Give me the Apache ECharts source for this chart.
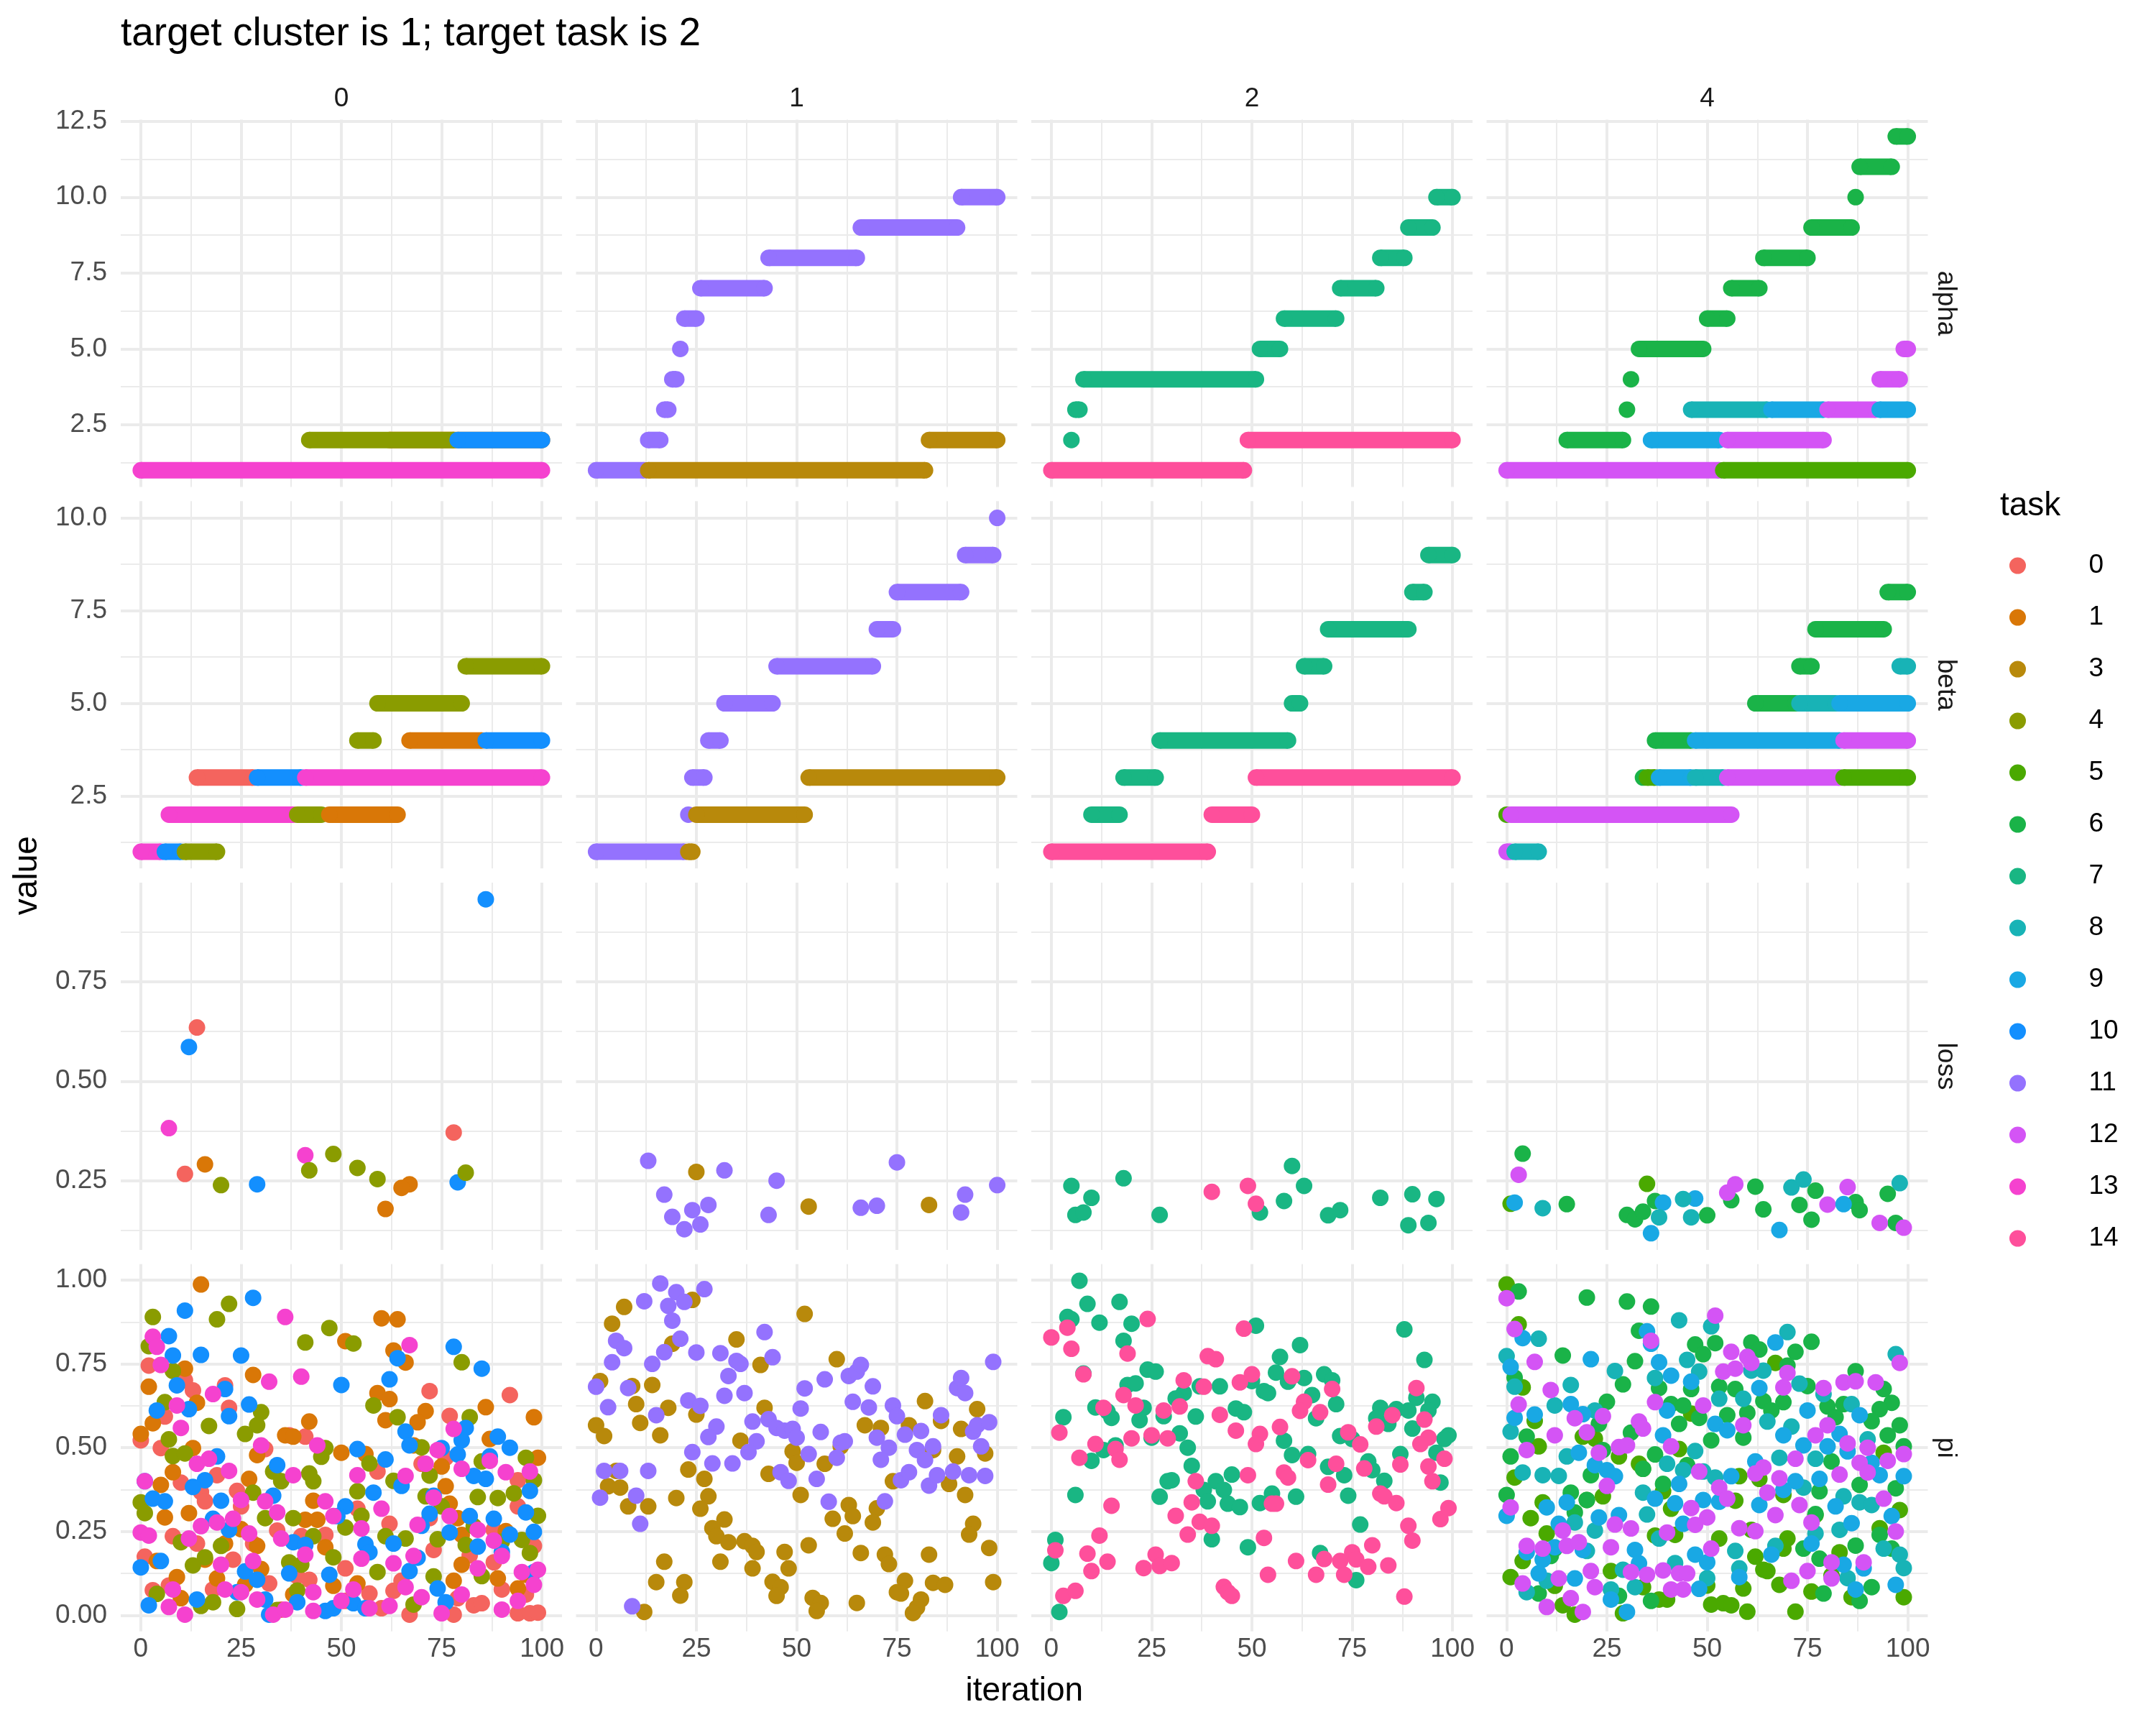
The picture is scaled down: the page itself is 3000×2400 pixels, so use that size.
<!DOCTYPE html>
<html>
<head>
<meta charset="utf-8">
<title>target cluster is 1; target task is 2</title>
<script src="https://cdn.jsdelivr.net/npm/echarts@6.0.0/dist/echarts.min.js"></script>
<style>
html,body{margin:0;padding:0;background:#ffffff;}
#chart{width:3000px;height:2400px;}
</style>
</head>
<body>
<div id="chart"></div>
<script>
// ---------------- categories ----------------
const clusters = [0, 1, 2, 4];
const metrics = ['alpha', 'beta', 'loss', 'pi'];
const tasks = [0, 1, 3, 4, 5, 6, 7, 8, 9, 10, 11, 12, 13, 14];
const titleText = 'target cluster is 1; target task is 2';

// ---------------- tick labels ----------------
const xTicks = [0, 25, 50, 75, 100];
const xMinorTicks = [12.5, 37.5, 62.5, 87.5];
const alphaTicks = [2.5, 5, 7.5, 10, 12.5];
const alphaMinorTicks = [1.25, 3.75, 6.25, 8.75, 11.25];
const betaTicks = [2.5, 5, 7.5, 10];
const betaMinorTicks = [1.25, 3.75, 6.25, 8.75];
const lossTicks = [0.25, 0.5, 0.75];
const lossMinorTicks = [0.125, 0.375, 0.625, 0.875];
const piTicks = [0, 0.25, 0.5, 0.75, 1];
const piMinorTicks = [0.125, 0.375, 0.625, 0.875];

// ---------------- alpha / beta: runs of constant value ----------------
// [cluster, task, firstIteration, lastIteration, value]
const alphaRuns = [
  [0,1,62,100,2],[0,4,42,78,2],[0,10,79,100,2],[0,13,0,100,1],
  [1,11,0,12,1],[1,3,13,82,1],[1,11,13,16,2],[1,11,17,18,3],[1,11,19,20,4],[1,11,21,21,5],
  [1,11,22,25,6],[1,11,26,42,7],[1,11,43,65,8],[1,11,66,90,9],[1,11,91,100,10],[1,3,83,100,2],
  [2,14,0,48,1],[2,7,5,5,2],[2,7,6,7,3],[2,7,8,51,4],[2,14,49,100,2],[2,7,52,57,5],
  [2,7,58,71,6],[2,7,72,81,7],[2,7,82,88,8],[2,7,89,95,9],[2,7,96,100,10],
  [4,12,0,53,1],[4,5,54,100,1],[4,6,15,29,2],[4,9,36,53,2],[4,12,55,79,2],
  [4,6,30,30,3],[4,8,46,65,3],[4,9,66,79,3],[4,12,80,92,3],[4,9,93,100,3],
  [4,6,31,31,4],[4,12,93,98,4],[4,6,33,49,5],[4,12,99,100,5],[4,6,50,55,6],
  [4,6,56,63,7],[4,6,64,75,8],[4,6,76,86,9],[4,6,87,87,10],[4,6,88,96,11],[4,6,97,100,12]
];
const betaRuns = [
  [0,13,0,5,1],[0,10,6,10,1],[0,4,11,19,1],
  [0,13,7,38,2],[0,4,39,45,2],[0,1,47,64,2],
  [0,0,14,28,3],[0,10,29,40,3],[0,13,41,100,3],
  [0,4,54,58,4],[0,1,67,85,4],[0,10,86,100,4],
  [0,4,59,80,5],[0,4,81,100,6],
  [1,11,0,22,1],[1,3,23,24,1],[1,11,23,23,2],[1,3,25,52,2],[1,11,24,27,3],[1,3,53,100,3],
  [1,11,28,31,4],[1,11,32,44,5],[1,11,45,69,6],[1,11,70,74,7],[1,11,75,91,8],[1,11,92,99,9],[1,11,100,100,10],
  [2,14,0,39,1],[2,7,10,17,2],[2,14,40,50,2],[2,7,18,26,3],[2,14,51,100,3],[2,7,27,59,4],
  [2,7,60,62,5],[2,7,63,68,6],[2,7,69,89,7],[2,7,90,93,8],[2,7,94,100,9],
  [4,12,0,1,1],[4,8,2,8,1],[4,5,0,0,2],[4,12,1,56,2],
  [4,6,34,34,3],[4,5,35,37,3],[4,9,38,46,3],[4,8,47,54,3],[4,12,55,83,3],[4,5,84,100,3],
  [4,6,37,46,4],[4,9,47,83,4],[4,12,84,100,4],
  [4,6,62,72,5],[4,8,73,82,5],[4,9,83,100,5],
  [4,6,73,76,6],[4,8,98,100,6],[4,6,77,94,7],[4,6,95,100,8]
];

// ---------------- loss: [cluster, task, iteration, value] ----------------
const lossPoints = [
  [0,10,86,.957],[0,0,14,.635],[0,10,12,.586],[0,13,7,.382],[0,0,78,.371],[0,1,16,.291],[0,0,11,.267],
  [0,4,20,.239],[0,10,29,.241],[0,13,41,.314],[0,4,48,.317],[0,4,42,.276],[0,4,54,.282],[0,4,59,.254],
  [0,1,67,.241],[0,1,65,.232],[0,1,61,.179],[0,10,79,.246],[0,4,81,.270],
  [1,11,13,.300],[1,3,25,.272],[1,11,32,.276],[1,11,45,.250],[1,11,17,.215],[1,11,28,.189],[1,11,24,.176],
  [1,11,19,.159],[1,11,22,.128],[1,11,26,.140],[1,11,43,.164],[1,3,53,.185],[1,11,66,.182],[1,11,70,.187],
  [1,11,75,.296],[1,3,83,.189],[1,11,91,.170],[1,11,92,.215],[1,11,100,.239],
  [2,7,5,.237],[2,7,10,.207],[2,7,18,.256],[2,7,6,.164],[2,7,8,.170],[2,7,27,.164],[2,14,40,.222],
  [2,14,49,.237],[2,14,51,.192],[2,7,52,.170],[2,7,60,.287],[2,7,63,.237],[2,7,58,.199],[2,7,69,.163],
  [2,7,72,.176],[2,7,82,.207],[2,7,90,.216],[2,7,96,.204],[2,7,89,.138],[2,7,94,.144],
  [4,6,4,.318],[4,12,3,.265],[4,5,1,.192],[4,9,2,.195],[4,8,9,.181],[4,6,15,.191],[4,5,35,.242],
  [4,6,37,.199],[4,9,39,.195],[4,6,30,.164],[4,6,32,.153],[4,6,34,.172],[4,8,38,.158],[4,9,36,.118],
  [4,8,44,.204],[4,9,47,.205],[4,8,46,.158],[4,6,50,.163],[4,12,55,.220],[4,12,57,.241],[4,6,56,.201],
  [4,6,62,.235],[4,6,64,.178],[4,9,68,.126],[4,8,71,.233],[4,8,74,.253],[4,6,77,.225],[4,6,73,.189],
  [4,6,76,.152],[4,12,80,.190],[4,9,84,.191],[4,12,85,.234],[4,6,87,.196],[4,6,88,.176],[4,6,95,.217],
  [4,8,98,.244],[4,12,93,.144],[4,6,97,.144],[4,12,99,.132]
];

// ---------------- pi: [iteration, value] per cluster / task ----------------
const piC0T0 = [[2,.745],[72,.669],[92,.657],[77,.595],[21,.686],[11,.701],[13,.671],[22,.619],[6,.593],[0,.522],[5,.499],[41,.533],[37,.537],[31,.496],[70,.452],[59,.429],[76,.470],[94,.403],[10,.396],[19,.418],[15,.368],[16,.340],[24,.371],[25,.325],[72,.290],[94,.325],[62,.273],[54,.318],[8,.236],[14,.214],[28,.214],[23,.166],[34,.253],[40,.236],[46,.240],[73,.195],[98,.207],[1,.175],[88,.158],[88,.255],[82,.179],[3,.075],[7,.089],[18,.077],[32,.095],[39,.117],[42,.106],[51,.140],[57,.065],[60,.021],[67,.002],[63,.073],[78,.002],[79,.051],[83,.030],[90,.077],[94,.006],[97,.006],[99,.008],[85,.036],[96,.062],[35,.017],[51,.043],[65,.103]];
const piC0T1 = [[15,.987],[60,.886],[64,.883],[51,.818],[63,.790],[66,.754],[11,.736],[28,.717],[2,.682],[59,.663],[62,.645],[14,.634],[86,.621],[71,.609],[98,.591],[42,.578],[61,.582],[69,.576],[3,.573],[0,.541],[87,.526],[36,.537],[38,.533],[13,.499],[29,.478],[50,.485],[56,.481],[68,.507],[99,.470],[75,.444],[8,.427],[27,.407],[5,.389],[76,.385],[43,.342],[77,.333],[12,.305],[6,.292],[41,.285],[44,.285],[79,.290],[25,.257],[91,.251],[21,.214],[80,.240],[29,.207],[46,.203],[80,.151],[16,.166],[4,.162],[30,.138],[19,.110],[89,.110],[9,.114],[54,.095],[10,.051],[48,.088],[78,.103],[96,.121],[94,.080],[38,.062],[26,.091]];
const piC0T4 = [[3,.890],[22,.929],[19,.883],[47,.857],[41,.814],[53,.811],[2,.803],[80,.755],[8,.729],[6,.636],[64,.591],[58,.626],[82,.591],[30,.606],[29,.567],[26,.541],[17,.565],[7,.525],[8,.475],[11,.483],[46,.499],[45,.473],[70,.501],[96,.470],[85,.459],[33,.429],[35,.400],[42,.423],[43,.400],[57,.453],[63,.401],[72,.417],[98,.403],[71,.355],[84,.353],[89,.350],[93,.364],[99,.297],[28,.366],[0,.337],[1,.305],[54,.370],[55,.297],[75,.325],[31,.290],[38,.290],[51,.262],[43,.236],[61,.236],[66,.229],[74,.227],[83,.266],[81,.210],[10,.218],[20,.207],[16,.173],[48,.173],[13,.149],[37,.158],[40,.151],[59,.129],[73,.116],[85,.117],[4,.064],[15,.028],[18,.039],[24,.019],[39,.074],[68,.032],[34,.016],[97,.186],[90,.220],[95,.225]];
const piC0T10 = [[28,.947],[11,.909],[7,.833],[8,.775],[15,.777],[25,.775],[78,.801],[85,.736],[64,.767],[62,.704],[50,.687],[9,.686],[21,.675],[27,.629],[4,.611],[12,.615],[22,.594],[66,.548],[81,.559],[80,.522],[89,.533],[92,.500],[67,.507],[75,.499],[79,.480],[54,.496],[19,.474],[61,.465],[34,.448],[16,.403],[87,.474],[86,.407],[83,.416],[13,.383],[1,.400],[65,.386],[97,.371],[33,.357],[58,.366],[73,.357],[6,.340],[20,.342],[3,.348],[96,.307],[88,.288],[82,.296],[72,.303],[70,.267],[18,.288],[51,.325],[49,.296],[98,.249],[77,.247],[92,.241],[22,.255],[56,.212],[57,.188],[63,.214],[84,.205],[90,.189],[69,.172],[38,.218],[41,.210],[5,.162],[0,.143],[37,.125],[26,.131],[29,.106],[67,.132],[47,.121],[98,.129],[2,.030],[14,.047],[31,.047],[32,.002],[39,.039],[46,.013],[48,.021],[53,.036],[56,.021],[74,.080],[76,.039],[24,.069]];
const piC0T13 = [[36,.890],[67,.806],[3,.831],[4,.801],[5,.747],[32,.697],[40,.712],[18,.660],[9,.626],[10,.559],[30,.507],[44,.507],[78,.556],[74,.493],[87,.461],[91,.427],[97,.429],[80,.437],[71,.452],[54,.418],[66,.416],[38,.418],[22,.431],[14,.452],[17,.467],[1,.400],[73,.351],[46,.340],[31,.340],[25,.344],[34,.307],[23,.288],[15,.266],[19,.277],[60,.318],[48,.296],[77,.296],[69,.270],[0,.247],[2,.238],[12,.229],[27,.244],[35,.229],[55,.259],[84,.255],[88,.223],[41,.181],[55,.169],[68,.177],[20,.151],[28,.162],[90,.177],[99,.136],[98,.091],[95,.129],[84,.140],[7,.025],[11,.002],[8,.077],[21,.077],[25,.069],[29,.047],[33,.002],[36,.017],[43,.013],[43,.069],[53,.077],[50,.043],[57,.021],[62,.028],[66,.084],[70,.054],[75,.006],[80,.062],[90,.017],[63,.155],[94,.043]];
const piC1T3 = [[7,.920],[4,.870],[24,.941],[19,.810],[35,.823],[52,.899],[41,.747],[60,.764],[1,.699],[9,.684],[14,.687],[10,.630],[18,.619],[11,.574],[0,.567],[2,.535],[16,.537],[25,.599],[42,.619],[82,.639],[95,.615],[67,.567],[71,.559],[78,.567],[86,.580],[91,.556],[36,.521],[49,.489],[50,.455],[57,.452],[61,.504],[84,.493],[90,.474],[97,.483],[43,.422],[5,.431],[3,.385],[6,.381],[88,.392],[74,.400],[23,.435],[27,.407],[20,.350],[28,.355],[8,.325],[13,.325],[26,.318],[51,.359],[63,.329],[64,.296],[59,.288],[62,.244],[70,.319],[69,.277],[92,.359],[94,.273],[93,.241],[98,.201],[32,.286],[29,.260],[30,.236],[33,.218],[37,.221],[39,.207],[40,.189],[47,.189],[53,.209],[66,.186],[72,.181],[73,.153],[83,.181],[17,.160],[31,.160],[39,.140],[48,.140],[15,.099],[22,.099],[21,.059],[44,.100],[46,.084],[45,.058],[54,.052],[56,.037],[55,.013],[65,.037],[77,.103],[75,.069],[76,.065],[84,.097],[87,.091],[81,.047],[80,.023],[79,.007],[99,.099],[12,.010]];
const piC1T11 = [[16,.990],[20,.964],[27,.973],[12,.937],[18,.923],[22,.935],[19,.879],[21,.825],[17,.785],[5,.819],[7,.797],[4,.755],[14,.750],[25,.784],[31,.782],[35,.759],[36,.750],[33,.714],[42,.845],[44,.770],[0,.682],[8,.678],[3,.621],[32,.655],[37,.663],[23,.641],[26,.625],[15,.597],[30,.563],[28,.532],[24,.487],[29,.453],[34,.453],[39,.578],[43,.585],[45,.559],[47,.551],[49,.556],[50,.530],[40,.519],[38,.487],[52,.677],[51,.617],[57,.704],[56,.547],[53,.481],[60,.470],[61,.515],[62,.519],[63,.714],[65,.727],[66,.747],[69,.683],[64,.637],[68,.620],[74,.626],[75,.594],[70,.530],[73,.500],[71,.464],[46,.427],[48,.401],[55,.407],[58,.339],[72,.340],[76,.403],[78,.427],[77,.539],[81,.550],[80,.493],[82,.463],[84,.504],[86,.597],[90,.678],[91,.708],[92,.663],[94,.548],[95,.567],[98,.576],[96,.504],[83,.387],[85,.418],[89,.429],[93,.418],[97,.416],[99,.756],[2,.431],[6,.431],[13,.431],[1,.351],[10,.357],[11,.273],[9,.027]];
const piC2T7 = [[7,.998],[9,.929],[17,.935],[4,.890],[5,.883],[12,.873],[20,.870],[18,.819],[51,.864],[62,.806],[88,.853],[93,.762],[57,.771],[56,.724],[59,.697],[63,.708],[68,.719],[70,.701],[24,.733],[26,.727],[19,.687],[21,.692],[8,.721],[37,.683],[42,.683],[33,.663],[31,.647],[50,.699],[53,.669],[54,.663],[65,.657],[71,.630],[82,.619],[86,.615],[89,.611],[95,.637],[91,.649],[94,.611],[84,.571],[90,.557],[81,.588],[11,.620],[14,.608],[15,.589],[23,.619],[22,.582],[28,.594],[36,.593],[46,.617],[48,.606],[66,.588],[3,.591],[32,.543],[25,.530],[34,.500],[16,.507],[13,.493],[10,.461],[72,.535],[75,.526],[99,.537],[98,.526],[58,.521],[60,.478],[64,.481],[87,.481],[96,.485],[79,.459],[80,.433],[69,.443],[73,.418],[83,.401],[97,.396],[35,.446],[45,.420],[41,.400],[29,.400],[30,.403],[38,.374],[43,.374],[39,.340],[44,.333],[47,.323],[55,.363],[52,.335],[27,.354],[61,.354],[74,.357],[6,.359],[77,.271],[40,.227],[49,.203],[1,.225],[0,.156],[67,.186],[76,.105],[2,.010]];
const piC2T14 = [[0,.829],[4,.858],[5,.795],[24,.884],[19,.781],[48,.855],[39,.773],[41,.764],[8,.719],[33,.701],[38,.682],[47,.695],[50,.719],[60,.713],[70,.675],[91,.678],[18,.657],[21,.626],[13,.619],[28,.611],[32,.623],[42,.598],[63,.637],[62,.610],[67,.606],[93,.584],[81,.563],[85,.597],[2,.545],[25,.537],[29,.528],[20,.528],[46,.551],[52,.541],[51,.511],[57,.562],[74,.546],[77,.510],[94,.530],[92,.511],[11,.511],[7,.470],[16,.496],[17,.464],[64,.463],[71,.452],[78,.438],[87,.450],[98,.467],[94,.444],[58,.426],[59,.411],[49,.418],[36,.400],[69,.390],[95,.400],[82,.363],[83,.355],[86,.335],[35,.337],[55,.333],[56,.333],[15,.327],[31,.297],[37,.279],[40,.267],[34,.241],[53,.231],[97,.287],[99,.320],[89,.267],[90,.223],[80,.209],[12,.238],[1,.194],[9,.184],[14,.160],[10,.132],[23,.141],[26,.181],[27,.147],[30,.156],[61,.162],[68,.168],[72,.162],[75,.188],[76,.167],[79,.145],[84,.149],[66,.121],[73,.121],[54,.121],[3,.058],[6,.073],[43,.085],[44,.069],[45,.058],[88,.056]];
const piC4T5 = [[0,.987],[3,.868],[4,.680],[2,.411],[8,.504],[7,.580],[19,.533],[22,.527],[28,.474],[33,.452],[34,.437],[43,.496],[46,.602],[67,.753],[58,.415],[57,.342],[63,.407],[69,.359],[94,.485],[98,.314],[6,.290],[9,.337],[10,.244],[4,.162],[1,.114],[14,.030],[17,.002],[24,.355],[20,.344],[39,.370],[41,.318],[37,.238],[42,.240],[53,.229],[61,.255],[62,.175],[65,.132],[69,.199],[70,.229],[77,.299],[93,.260],[81,.119],[68,.091],[76,.071],[59,.080],[51,.032],[54,.036],[56,.030],[60,.011],[72,.011],[86,.054],[99,.054],[38,.047],[40,.047],[34,.084],[29,.006],[12,.088],[26,.132],[64,.136],[83,.188],[50,.089]];
const piC4T6 = [[3,.966],[20,.948],[30,.936],[36,.921],[33,.849],[47,.808],[52,.812],[61,.814],[63,.793],[72,.786],[76,.816],[49,.779],[14,.775],[32,.758],[70,.745],[87,.728],[2,.709],[29,.689],[38,.678],[46,.675],[53,.682],[57,.675],[75,.684],[94,.675],[25,.637],[41,.630],[44,.626],[64,.639],[69,.636],[80,.623],[96,.634],[84,.630],[93,.615],[82,.591],[55,.597],[60,.604],[48,.589],[43,.571],[66,.611],[91,.579],[98,.567],[23,.571],[31,.545],[51,.522],[59,.530],[95,.537],[5,.533],[1,.474],[24,.493],[37,.480],[81,.459],[99,.504],[34,.437],[21,.418],[45,.448],[39,.392],[88,.389],[78,.370],[97,.379],[0,.359],[16,.366],[20,.344],[12,.199],[17,.307],[77,.302],[74,.199],[87,.208],[93,.240],[78,.169],[8,.065],[28,.058],[36,.043],[88,.043],[91,.084],[79,.065],[11,.177],[96,.199]];
const piC4T8 = [[43,.880],[51,.862],[70,.845],[97,.779],[8,.825],[0,.773],[2,.682],[16,.687],[27,.729],[45,.762],[48,.727],[37,.708],[61,.730],[64,.730],[73,.691],[79,.660],[86,.630],[12,.626],[22,.611],[59,.646],[53,.646],[65,.578],[71,.563],[1,.548],[90,.525],[15,.474],[47,.490],[40,.452],[49,.429],[44,.433],[52,.411],[68,.470],[77,.467],[4,.426],[9,.418],[13,.416],[34,.366],[35,.301],[74,.381],[84,.355],[88,.337],[91,.329],[17,.277],[22,.253],[38,.229],[57,.192],[83,.255],[77,.244],[94,.199],[98,.181],[99,.141],[5,.069],[10,.103],[26,.077],[29,.136],[32,.084],[42,.156],[50,.111],[58,.140],[85,.111],[20,.192],[67,.207]];
const piC4T9 = [[35,.847],[36,.810],[4,.827],[21,.764],[1,.741],[38,.755],[41,.715],[46,.697],[67,.814],[63,.678],[75,.611],[88,.597],[7,.599],[16,.630],[2,.589],[19,.600],[40,.611],[39,.537],[52,.571],[55,.552],[69,.537],[74,.507],[83,.541],[80,.504],[85,.489],[91,.455],[93,.418],[18,.485],[22,.448],[25,.433],[27,.415],[43,.392],[56,.415],[62,.459],[78,.407],[72,.400],[69,.374],[99,.415],[10,.322],[15,.337],[23,.292],[28,.299],[37,.348],[42,.334],[49,.344],[53,.339],[63,.329],[82,.325],[96,.296],[0,.297],[44,.273],[86,.275],[13,.273],[76,.214],[12,.203],[5,.188],[9,.166],[19,.195],[32,.195],[33,.155],[47,.181],[50,.158],[66,.181],[84,.151],[89,.140],[8,.125],[17,.110],[26,.047],[30,.010],[48,.079],[58,.114],[87,.077],[97,.091]];
const piC4T12 = [[0,.946],[2,.854],[7,.756],[36,.819],[52,.894],[56,.786],[54,.727],[57,.736],[60,.771],[61,.753],[70,.723],[69,.680],[79,.678],[84,.695],[87,.698],[92,.695],[98,.753],[11,.672],[3,.629],[37,.636],[49,.626],[17,.588],[24,.594],[12,.537],[20,.546],[33,.578],[34,.557],[59,.567],[80,.567],[77,.537],[85,.513],[5,.493],[23,.485],[28,.502],[30,.507],[41,.504],[72,.467],[88,.455],[90,.500],[95,.461],[99,.481],[83,.420],[64,.441],[62,.423],[48,.429],[68,.409],[90,.426],[25,.386],[53,.381],[55,.348],[65,.366],[73,.329],[94,.348],[1,.322],[46,.320],[67,.299],[27,.271],[31,.259],[47,.270],[50,.292],[40,.247],[58,.260],[62,.251],[76,.277],[97,.250],[14,.253],[5,.207],[9,.199],[15,.207],[18,.218],[26,.203],[51,.199],[81,.158],[89,.158],[75,.132],[71,.103],[81,.110],[4,.095],[13,.110],[21,.132],[22,.084],[16,.051],[10,.025],[19,.010],[31,.129],[35,.121],[39,.134],[43,.125],[45,.125],[41,.077],[44,.077]];

// which pi array belongs to which cluster / task (drawing order)
const piSets = [
  [0,0,piC0T0],[0,1,piC0T1],[0,4,piC0T4],[0,10,piC0T10],[0,13,piC0T13],
  [1,3,piC1T3],[1,11,piC1T11],
  [2,7,piC2T7],[2,14,piC2T14],
  [4,5,piC4T5],[4,6,piC4T6],[4,8,piC4T8],[4,9,piC4T9],[4,12,piC4T12]
];

// ---------------- style / layout ----------------
const palette = ['#F4645E','#D97707','#B8890B','#8A9C00','#4AA900','#1AB348','#19B683',
                 '#18B3B6','#19A8E4','#138FFE','#9472FE','#D454F5','#F542CF','#FE4F9B'];
const FONT = '"Liberation Sans", Arial, Helvetica, sans-serif';
const PANEL_LEFT0 = 168, PANEL_DX = 633.5, PANEL_W = 614;
const PANEL_TOP0 = 166.6, PANEL_DY = 530.7, PANEL_H = 511;
const PT = 23;
const GRID_COLOR = '#EBEBEB';

const colorOf = t => palette[tasks.indexOf(t)];
const panelLeft = c => PANEL_LEFT0 + c * PANEL_DX;
const panelTop = r => PANEL_TOP0 + r * PANEL_DY;
const gridIdx = (cluster, metric) => metrics.indexOf(metric) * 4 + clusters.indexOf(cluster);

// ggplot-like 5% expansion of the data range
function expand(vals) {
  const lo = Math.min(...vals), hi = Math.max(...vals), d = hi - lo;
  return [lo - 0.05 * d, hi + 0.05 * d];
}
const xExt = expand([].concat(
  alphaRuns.map(r => r[2]), alphaRuns.map(r => r[3]),
  lossPoints.map(p => p[2]), ...piSets.map(s => s[2].map(p => p[0]))));
const yExt = {
  alpha: expand(alphaRuns.map(r => r[4])),
  beta: expand(betaRuns.map(r => r[4])),
  loss: expand(lossPoints.map(p => p[3])),
  pi: expand([].concat(...piSets.map(s => s[2].map(p => p[1]))))
};
const yTickSets = {
  alpha: [alphaTicks, alphaMinorTicks, 1], beta: [betaTicks, betaMinorTicks, 1],
  loss: [lossTicks, lossMinorTicks, 2], pi: [piTicks, piMinorTicks, 2]
};

// ---------------- grids & axes ----------------
const grids = [], xAxes = [], yAxes = [];
metrics.forEach((m, r) => {
  clusters.forEach((cl, c) => {
    const k = r * 4 + c;
    grids.push({left: panelLeft(c), top: panelTop(r), width: PANEL_W, height: PANEL_H,
                containLabel: false, outerBoundsMode: 'none', show: false});
    const base = {type: 'value', gridIndex: k, axisLine: {show: false}, scale: true};
    xAxes.push(Object.assign({}, base, {
      min: xExt[0], max: xExt[1],
      axisTick: {show: false, customValues: xTicks},
      axisLabel: {show: r === 3, customValues: xTicks, margin: 7, fontSize: 37,
                  color: '#4D4D4D', fontFamily: FONT, formatter: v => String(v)},
      splitLine: {show: true, lineStyle: {color: GRID_COLOR, width: 4}}
    }));
    xAxes.push(Object.assign({}, base, {
      min: xExt[0], max: xExt[1],
      axisTick: {show: false, customValues: xMinorTicks},
      axisLabel: {show: false},
      splitLine: {show: true, lineStyle: {color: GRID_COLOR, width: 2}}
    }));
    const [maj, mnr, dec] = yTickSets[m];
    yAxes.push(Object.assign({}, base, {
      min: yExt[m][0], max: yExt[m][1],
      axisTick: {show: false, customValues: maj},
      axisLabel: {show: c === 0, customValues: maj, margin: 19, fontSize: 37,
                  color: '#4D4D4D', fontFamily: FONT, formatter: v => v.toFixed(dec)},
      splitLine: {show: true, lineStyle: {color: GRID_COLOR, width: 4}}
    }));
    yAxes.push(Object.assign({}, base, {
      min: yExt[m][0], max: yExt[m][1],
      axisTick: {show: false, customValues: mnr},
      axisLabel: {show: false},
      splitLine: {show: true, lineStyle: {color: GRID_COLOR, width: 2}}
    }));
  });
});

// ---------------- series ----------------
const series = [];
let zOrder = 2;
function addRuns(metric, runs) {
  runs.forEach(([cl, t, s, e, v]) => {
    const k = gridIdx(cl, metric), color = colorOf(t);
    series.push({
      type: 'line', name: String(t), xAxisIndex: 2 * k, yAxisIndex: 2 * k,
      data: s === e ? [[s, v]] : [[s, v], [e, v]],
      symbol: 'circle', symbolSize: PT, showSymbol: true, showAllSymbol: true,
      lineStyle: {width: PT, color: color}, itemStyle: {color: color, borderWidth: 0},
      silent: true, animation: false, z: zOrder++, emphasis: {disabled: true}
    });
  });
}
function addScatter(metric, cl, t, data) {
  const k = gridIdx(cl, metric), color = colorOf(t);
  series.push({
    type: 'scatter', name: String(t), xAxisIndex: 2 * k, yAxisIndex: 2 * k, data: data,
    symbol: 'circle', symbolSize: PT, itemStyle: {color: color, opacity: 1, borderWidth: 0},
    silent: true, animation: false, z: zOrder++, emphasis: {disabled: true}
  });
}
addRuns('alpha', alphaRuns);
addRuns('beta', betaRuns);
const lossGroups = new Map();
lossPoints.forEach(([cl, t, x, y]) => {
  const key = cl + '_' + t;
  if (!lossGroups.has(key)) lossGroups.set(key, {cl, t, data: []});
  lossGroups.get(key).data.push([x, y]);
});
lossGroups.forEach(g => addScatter('loss', g.cl, g.t, g.data));
piSets.forEach(([cl, t, data]) => addScatter('pi', cl, t, data));

// ---------------- texts ----------------
const graphics = [];
const txt = (x, y, text, size, fill, align, rot) => graphics.push({
  type: 'text', x: x, y: y, rotation: rot || 0, silent: true,
  style: {text: text, fontSize: size, fontFamily: FONT, fill: fill, align: align || 'center', verticalAlign: 'middle'}
});
txt(PANEL_LEFT0, 48, titleText, 55, '#000000', 'left');
clusters.forEach((cl, c) => txt(panelLeft(c) + PANEL_W / 2, 138, String(cl), 37, '#1A1A1A'));
metrics.forEach((m, r) => txt(2707, panelTop(r) + PANEL_H / 2, m, 37, '#1A1A1A', 'center', -Math.PI / 2));
txt(38, (panelTop(0) + panelTop(3) + PANEL_H) / 2, 'value', 46, '#000000', 'center', Math.PI / 2);
txt((panelLeft(0) + panelLeft(3) + PANEL_W) / 2, 2353, 'iteration', 46, '#000000');
txt(2783, 704, 'task', 46, '#000000', 'left');

const chart = echarts.init(document.getElementById('chart'), null, {renderer: 'canvas', width: 3000, height: 2400});
chart.setOption({
  backgroundColor: '#ffffff',
  animation: false,
  grid: grids,
  xAxis: xAxes,
  yAxis: yAxes,
  series: series,
  graphic: graphics,
  legend: {
    data: tasks.map(String), orient: 'vertical', left: 2791, top: 762, z: 1000,
    icon: 'circle', itemWidth: 72, itemHeight: PT, itemGap: 32, selectedMode: false,
    textStyle: {fontSize: 37, color: '#000000', fontFamily: FONT, lineHeight: 40, padding: [0, 0, 0, 58]}
  }
});
</script>
</body>
</html>
